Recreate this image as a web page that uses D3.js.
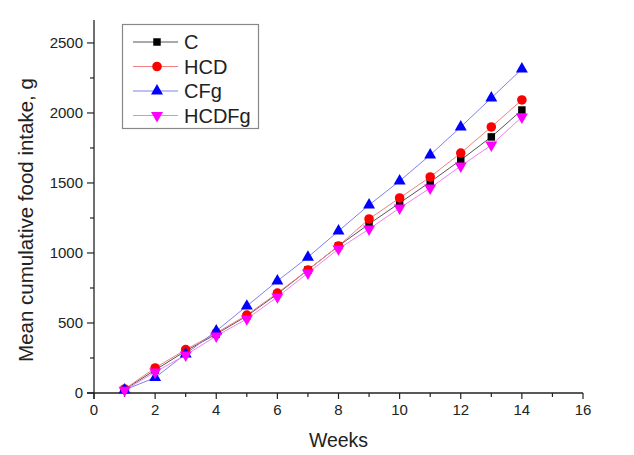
<!DOCTYPE html>
<html>
<head>
<meta charset="utf-8">
<script src="https://cdn.jsdelivr.net/npm/d3@7"></script>
<style>
  body { margin: 0; background: #fff; }
  svg text { font-family: "Liberation Sans", Arial, sans-serif; fill: #222; }
</style>
</head>
<body>
<div id="chart"></div>
<script>
// weeks and mean cumulative food intake (g) per group
var weeks = [1, 2, 3, 4, 5, 6, 7, 8, 9, 10, 11, 12, 13, 14];
var C     = [25, 164, 300, 421, 550, 707, 879, 1050, 1207, 1357, 1507, 1664, 1829, 2021];
var HCD   = [28, 179, 310, 429, 557, 714, 879, 1050, 1243, 1393, 1543, 1714, 1900, 2093];
var CFg   = [22, 110, 279, 443, 621, 800, 970, 1157, 1343, 1514, 1700, 1900, 2107, 2314];
var HCDFg = [20, 150, 271, 407, 529, 686, 857, 1029, 1171, 1321, 1464, 1621, 1771, 1971];

var xTicks = [0, 2, 4, 6, 8, 10, 12, 14, 16];
var yTicks = [0, 500, 1000, 1500, 2000, 2500];

var series = [
  {name: "C",     values: C,     line: "#555",    fill: "#000",    shape: d3.symbolSquare},
  {name: "HCD",   values: HCD,   line: "#f08080", fill: "#f00",    shape: d3.symbolCircle},
  {name: "CFg",   values: CFg,   line: "#8080f0", fill: "#00f",    shape: d3.symbolTriangle},
  {name: "HCDFg", values: HCDFg, line: "#f080f0", fill: "#f0f",    shape: "down"}
];

var width = 634, height = 455;
var margin = {left: 94, right: 51, top: 20, bottom: 62};

var svg = d3.select("#chart").append("svg")
  .attr("width", width)
  .attr("height", height);

var x = d3.scaleLinear().domain([0, 16]).range([margin.left, width - margin.right]);
var y = d3.scaleLinear().domain([0, 2664]).range([height - margin.bottom, margin.top]);

// x axis
var gx = svg.append("g").attr("transform", "translate(0," + y(0) + ")");
gx.append("line").attr("x1", x(0) - 7).attr("x2", x(16)).attr("stroke", "#222").attr("stroke-width", 1.3);
gx.selectAll(".mj").data(xTicks).enter().append("line")
  .attr("x1", d => x(d)).attr("x2", d => x(d)).attr("y1", 0).attr("y2", 6)
  .attr("stroke", "#222").attr("stroke-width", 1.2);
gx.selectAll(".mn").data(d3.range(1, 16, 2)).enter().append("line")
  .attr("x1", d => x(d)).attr("x2", d => x(d)).attr("y1", 0).attr("y2", 4)
  .attr("stroke", "#222").attr("stroke-width", 1.2);
gx.selectAll("text").data(xTicks).enter().append("text")
  .attr("x", d => x(d)).attr("y", 22)
  .attr("text-anchor", "middle").attr("font-size", 15)
  .text(d => d);

// y axis
var gy = svg.append("g").attr("transform", "translate(" + x(0) + ",0)");
gy.append("line").attr("y1", y(0) + 6).attr("y2", margin.top).attr("stroke", "#222").attr("stroke-width", 1.3);
gy.selectAll(".mj").data(yTicks).enter().append("line")
  .attr("y1", d => y(d)).attr("y2", d => y(d)).attr("x1", 0).attr("x2", -7)
  .attr("stroke", "#222").attr("stroke-width", 1.2);
gy.selectAll(".mn").data(d3.range(250, 2700, 500)).enter().append("line")
  .attr("y1", d => y(d)).attr("y2", d => y(d)).attr("x1", 0).attr("x2", -4)
  .attr("stroke", "#222").attr("stroke-width", 1.2);
gy.selectAll("text").data(yTicks).enter().append("text")
  .attr("x", -11).attr("y", d => y(d)).attr("dy", "0.35em")
  .attr("text-anchor", "end").attr("font-size", 15)
  .text(d => d);

// axis titles
svg.append("text")
  .attr("x", (x(0) + x(16)) / 2).attr("y", 447)
  .attr("text-anchor", "middle").attr("font-size", 19.5)
  .text("Weeks");
svg.append("text")
  .attr("transform", "translate(33,220) rotate(-90)")
  .attr("text-anchor", "middle").attr("font-size", 20.5)
  .text("Mean cumulative food intake, g");

function marker(g, s) {
  if (s.shape === "down") {
    g.append("path").attr("d", d3.symbol(d3.symbolTriangle, 62)())
      .attr("transform", "rotate(180)").attr("fill", s.fill);
  } else {
    var size = s.shape === d3.symbolSquare ? 56 : (s.shape === d3.symbolCircle ? 72 : 62);
    g.append("path").attr("d", d3.symbol(s.shape, size)()).attr("fill", s.fill);
  }
}

var line = d3.line().x((d, i) => x(weeks[i])).y(d => y(d));

series.forEach(function(s) {
  svg.append("path").datum(s.values)
    .attr("d", line).attr("fill", "none")
    .attr("stroke", s.line).attr("stroke-width", 1);
});
series.forEach(function(s) {
  s.values.forEach(function(v, i) {
    var g = svg.append("g").attr("transform", "translate(" + x(weeks[i]) + "," + y(v) + ")");
    marker(g, s);
  });
});

// legend
var lg = svg.append("g");
lg.append("rect").attr("x", 122.5).attr("y", 24.5).attr("width", 136).attr("height", 104)
  .attr("fill", "#fff").attr("stroke", "#888").attr("stroke-width", 1.2);
series.forEach(function(s, i) {
  var yy = 42 + i * 24.5;
  lg.append("line").attr("x1", 133).attr("x2", 178).attr("y1", yy).attr("y2", yy)
    .attr("stroke", s.line).attr("stroke-width", 1);
  var g = lg.append("g").attr("transform", "translate(157," + yy + ")");
  marker(g, s);
  lg.append("text").attr("x", 184).attr("y", yy).attr("dy", "0.36em")
    .attr("font-size", 20).text(s.name);
});
</script>
</body>
</html>
